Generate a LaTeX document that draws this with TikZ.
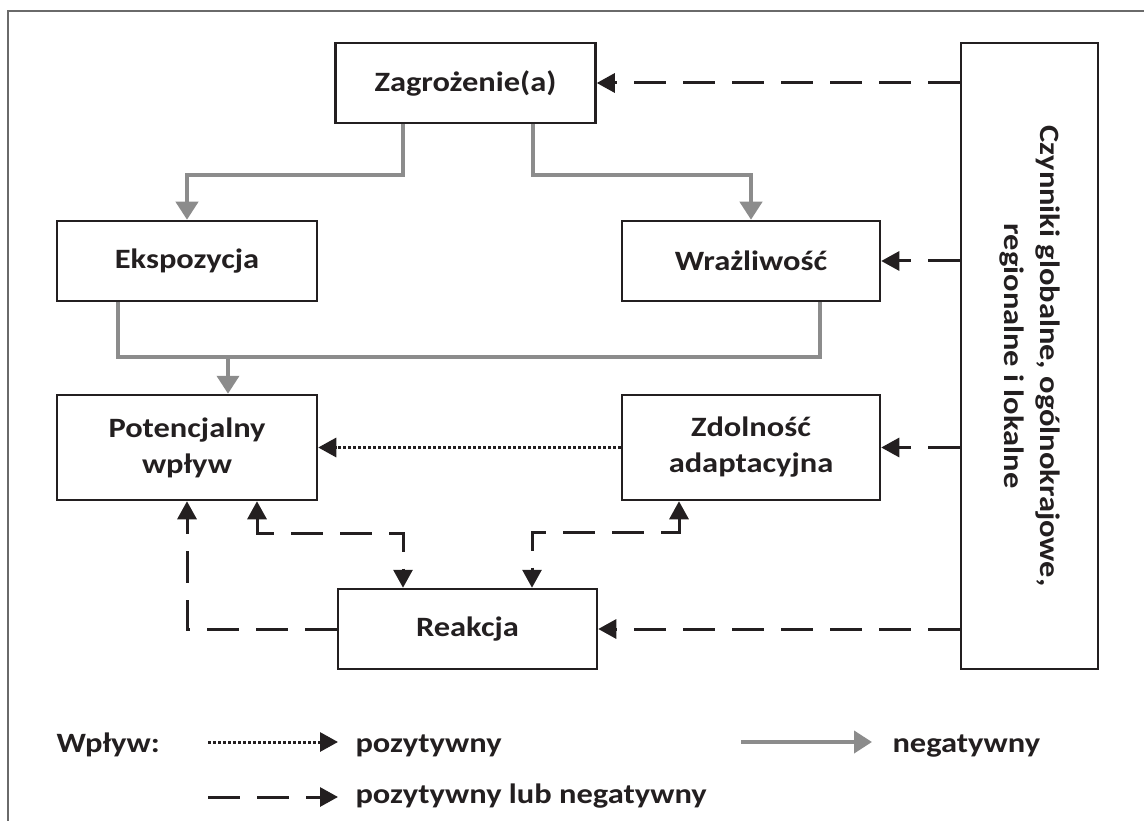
\documentclass[tikz,border=0pt]{standalone}
\usepackage{fontspec}
\setmainfont{Carlito}[FakeStretch=1.16]
\usetikzlibrary{arrows.meta,calc}
\definecolor{ink}{HTML}{231F20}
\definecolor{neggray}{HTML}{8C8C8C}
\definecolor{framegray}{HTML}{6A6A6A}
\tikzset{blk/.style={draw=ink, line width=2.5pt, text=ink, font=\bfseries\fontsize{28}{36}\selectfont, align=center},
  lbl/.style={text=ink, font=\bfseries\fontsize{28}{36}\selectfont},
  negline/.style={draw=neggray, line width=4pt},
  negarr/.style={negline, -{Triangle[length=18pt,width=22pt]}},
  mixarr/.style={draw=ink, line width=3pt, dash pattern=on 32pt off 17pt, -{Triangle[length=18pt,width=19pt]}},
  mixboth/.style={mixarr, {Triangle[length=18pt,width=19pt]}-{Triangle[length=18pt,width=19pt]}},
  posarr/.style={draw=ink, line width=3pt, dash pattern=on 2.5pt off 2.5pt, -{Triangle[length=18pt,width=19pt]}}}

\begin{document}
\begin{tikzpicture}[x=1pt,y=-1pt]
  \useasboundingbox (0,0) rectangle (1144,821);
  \draw[framegray, line width=1.5pt] (8,821) -- (8,11) -- (1144,11);
  % boxes
  \node[blk, minimum width=260, minimum height=80] (zag) at (465.5,83) {Zagrożenie(a)};
  \node[blk, minimum width=260, minimum height=80] (eks) at (187,261) {Ekspozycja};
  \node[blk, minimum width=258, minimum height=80] (wra) at (751,261) {Wrażliwość};
  \node[blk, minimum width=260, minimum height=105] (pot) at (187,447.5) {Potencjalny\\wpływ};
  \node[blk, minimum width=258, minimum height=105] (zdol) at (751,447.5) {Zdolność\\adaptacyjna};
  \node[blk, minimum width=259, minimum height=80] (reak) at (467.5,629) {Reakcja};
  \node[blk, rotate=-90, minimum width=626, minimum height=137] (czyn) at (1029.5,356)
    {Czynniki globalne, ogólnokrajowe,\\regionalne i lokalne};
  % negative (grey)
  \draw[negarr] ($(zag.south)+(-63,0)$) -- ++(0,51) -| (eks.north);
  \draw[negarr] ($(zag.south)+(67,0)$) -- ++(0,51) -| (wra.north);
  \coordinate (mrg) at (228,357);
  \draw[negline] ($(eks.south)+(-69,0)$) |- (mrg) -| ($(wra.south)+(69,0)$);
  \draw[negarr] (mrg) -- (mrg |- pot.north);
  % external factors (czyn is turned, its south side faces left)
  \draw[mixarr] (czyn.south |- zag.east) -- (zag.east);
  \draw[mixarr] (czyn.south |- wra.east) -- (wra.east);
  \draw[mixarr] (czyn.south |- zdol.east) -- (zdol.east);
  \draw[mixarr] (czyn.south |- reak.east) -- (reak.east);
  % positive
  \draw[posarr] (zdol.west) -- (pot.east);
  % feedback loops
  \draw[mixarr] (reak.west) -| (pot.south);
  \draw[mixboth] ($(pot.south)+(70,0)$) -- ++(0,32) -| ($(reak.north)+(-64.5,0)$);
  \draw[mixboth] ($(zdol.south)+(-72,0)$) -- ++(0,31) -| ($(reak.north)+(64.5,0)$);
  % legend
  \node[lbl, anchor=base west] (wpl) at (53,752) {Wpływ:};
  \coordinate (d0) at (208,742);
  \node[lbl, anchor=base west] (lpos) at (352,752) {pozytywny};
  \draw[posarr, shorten >=14pt] (d0) -- (d0 -| lpos.west);
  \coordinate (g0) at (741,742);
  \node[lbl, anchor=base west] (lneg) at (889,752) {negatywny};
  \draw[negarr, shorten >=17pt] (g0) -- (g0 -| lneg.west);
  \coordinate (m0) at (208,797);
  \node[lbl, anchor=base west] (lmix) at (352,803) {pozytywny lub negatywny};
  \draw[mixarr, shorten >=14pt] (m0) -- (m0 -| lmix.west);
\end{tikzpicture}
\end{document}
